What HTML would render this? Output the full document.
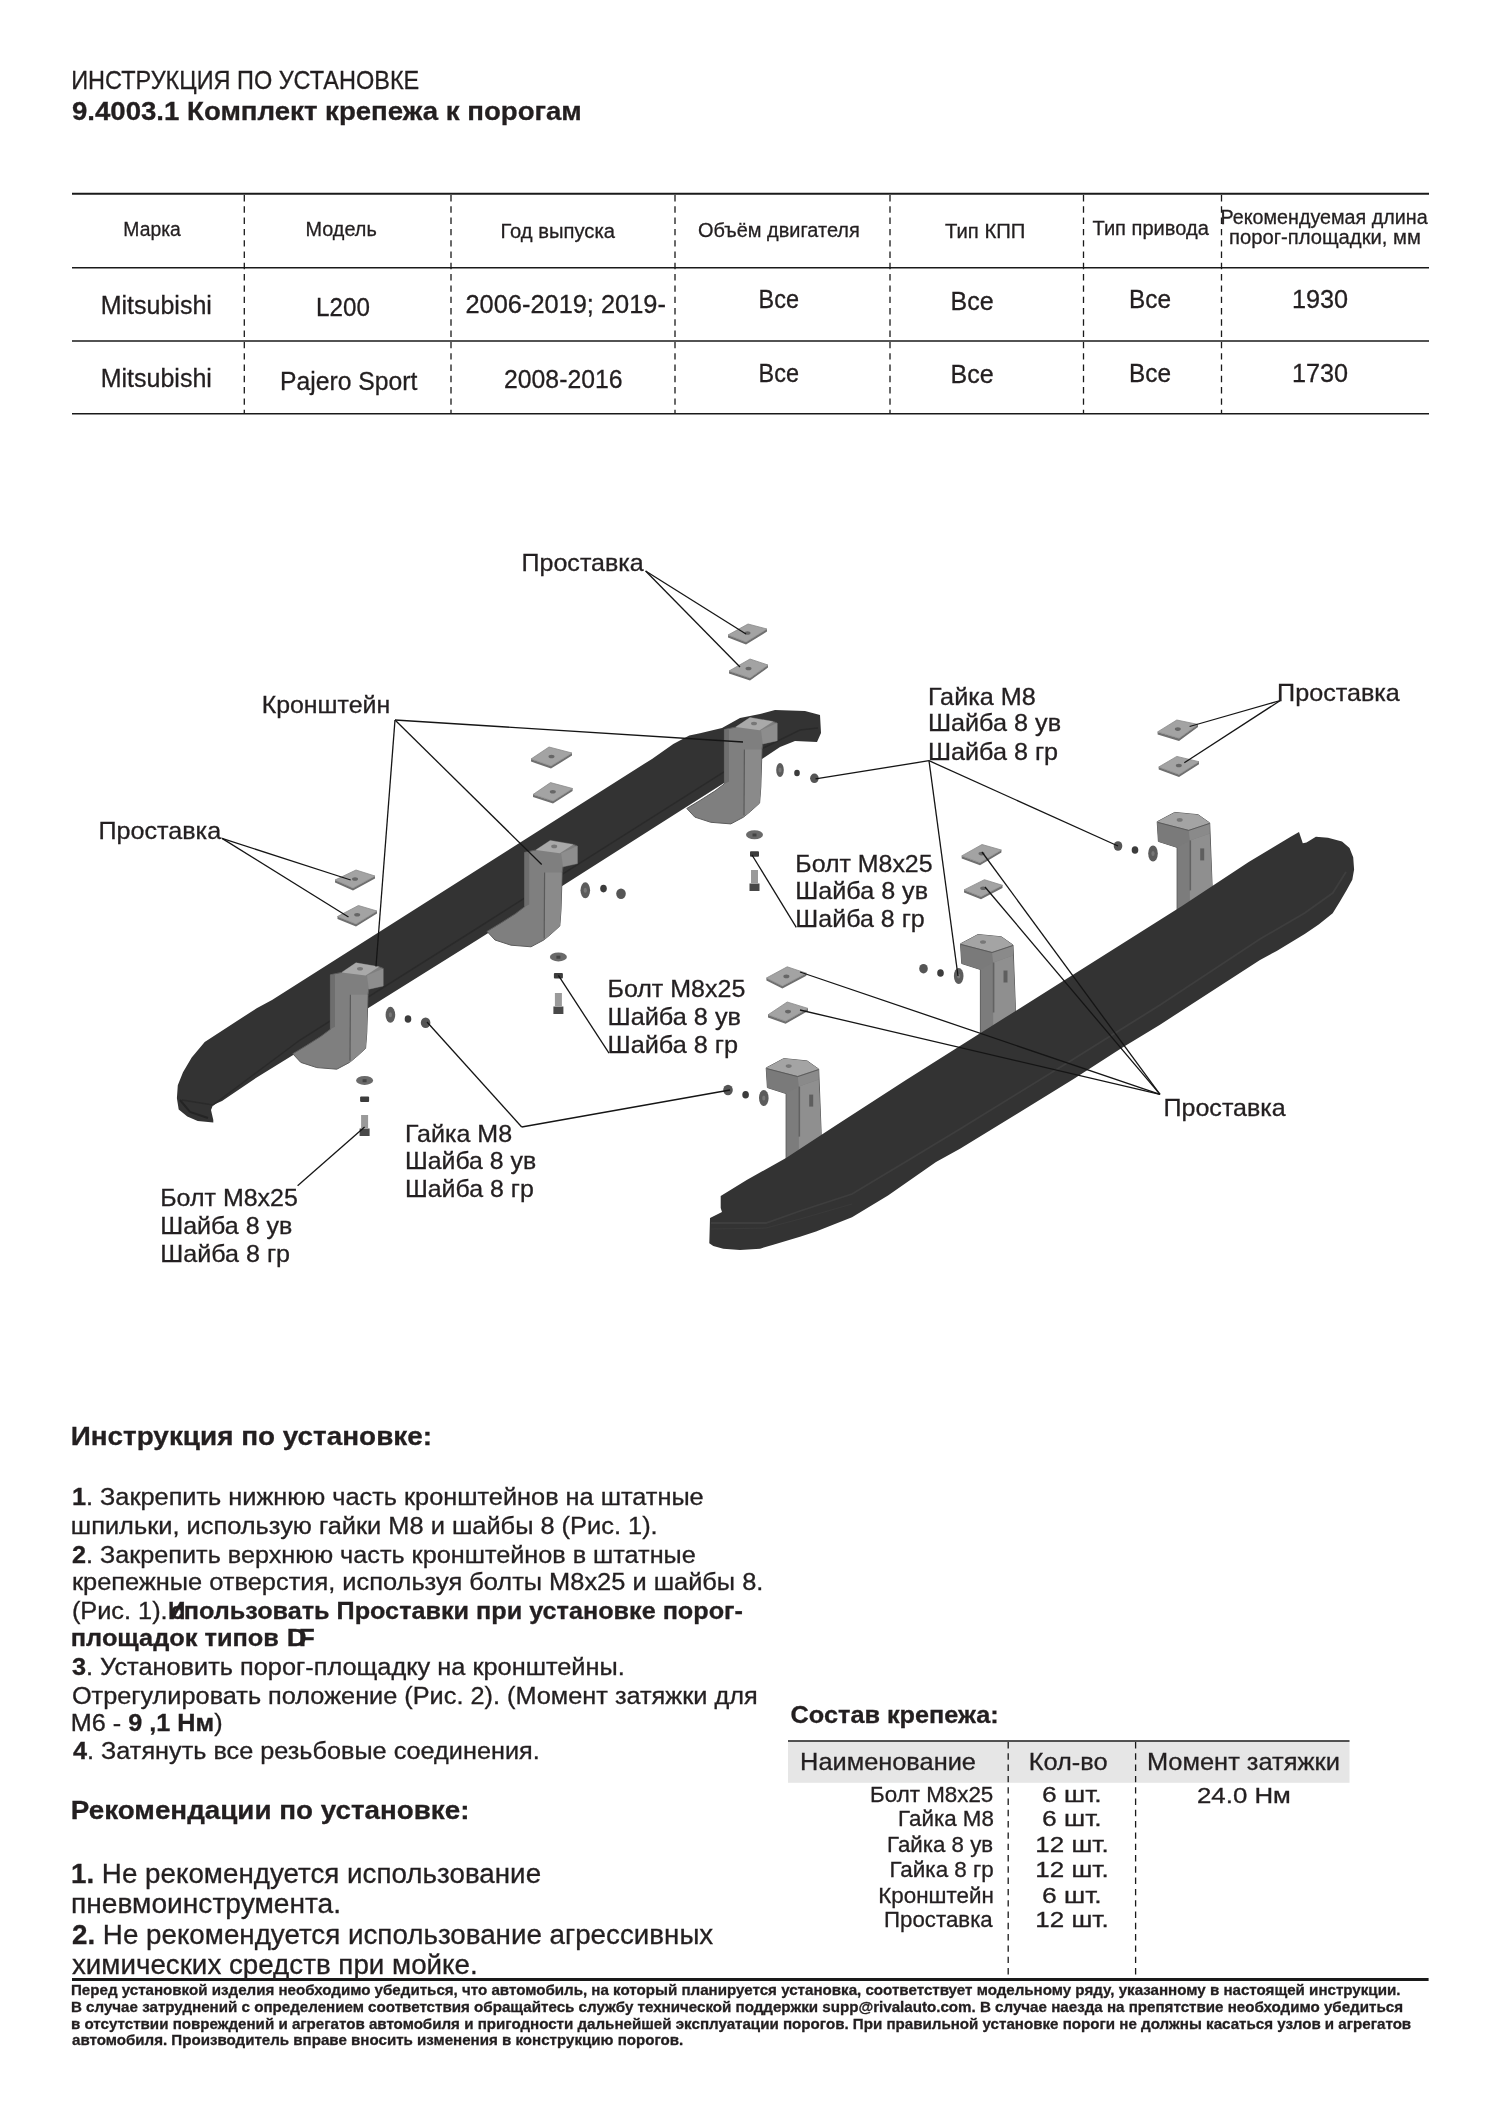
<!DOCTYPE html>
<html><head><meta charset="utf-8"><title>Инструкция по установке</title>
<style>html,body{margin:0;padding:0;background:#fff}svg{display:block;will-change:transform}</style></head>
<body><svg width="1500" height="2122" viewBox="0 0 1500 2122" font-family="Liberation Sans, sans-serif" fill="#231f20">
<line x1="72" y1="193.8" x2="1429" y2="193.8" stroke="#1a1a1a" stroke-width="2"/>
<line x1="72" y1="267.7" x2="1429" y2="267.7" stroke="#1a1a1a" stroke-width="1.4"/>
<line x1="72" y1="341" x2="1429" y2="341" stroke="#1a1a1a" stroke-width="1.6"/>
<line x1="72" y1="413.8" x2="1429" y2="413.8" stroke="#1a1a1a" stroke-width="1.4"/>
<line x1="244.3" y1="195" x2="244.3" y2="414" stroke="#1a1a1a" stroke-width="1.3" stroke-dasharray="6.4 4.9"/>
<line x1="451" y1="195" x2="451" y2="414" stroke="#1a1a1a" stroke-width="1.3" stroke-dasharray="6.4 4.9"/>
<line x1="675" y1="195" x2="675" y2="414" stroke="#1a1a1a" stroke-width="1.3" stroke-dasharray="6.4 4.9"/>
<line x1="890" y1="195" x2="890" y2="414" stroke="#1a1a1a" stroke-width="1.3" stroke-dasharray="6.4 4.9"/>
<line x1="1083.5" y1="195" x2="1083.5" y2="414" stroke="#1a1a1a" stroke-width="1.3" stroke-dasharray="6.4 4.9"/>
<line x1="1221.5" y1="195" x2="1221.5" y2="414" stroke="#1a1a1a" stroke-width="1.3" stroke-dasharray="6.4 4.9"/>
<rect x="788" y="1741.5" width="561.5" height="41.3" fill="#e6e6e6"/>
<line x1="788" y1="1741" x2="1349.5" y2="1741" stroke="#1a1a1a" stroke-width="1.6"/>
<line x1="1008.2" y1="1742" x2="1008.2" y2="1976.5" stroke="#1a1a1a" stroke-width="1.3" stroke-dasharray="6.4 4.9"/>
<line x1="1135.6" y1="1742" x2="1135.6" y2="1976.5" stroke="#1a1a1a" stroke-width="1.3" stroke-dasharray="6.4 4.9"/>
<line x1="72" y1="1979.6" x2="1428.6" y2="1979.6" stroke="#1a1a1a" stroke-width="3"/>
<polygon points="176.9,1098.3 177.8,1085.3 183.0,1072.3 191.7,1057.6 204.7,1042.0 222.0,1030.7 256.7,1008.2 272.0,1000.0 652.0,758.9 673.3,744.0 689.3,735.5 700.0,733.3 722.0,728.0 740.0,718.0 760.0,714.0 775.0,710.0 805.0,711.0 820.0,715.0 821.0,733.0 817.0,742.0 795.0,741.0 780.0,747.0 765.0,757.0 757.0,762.0 476.0,940.8 300.0,1050.7 256.7,1077.5 222.0,1101.0 213.0,1105.0 211.0,1110.0 213.3,1120.0 213.3,1122.6 197.7,1120.9 187.3,1116.5 178.7,1109.6" fill="#333333"/>
<polyline points="182.0,1100.0 213.0,1105.0 300.0,1040.0 476.0,929.0 757.0,751.0 800.0,730.0 818.0,728.0" fill="none" stroke="#2a2a2a" stroke-width="1.5"/>
<polyline points="180.0,1100.0 190.0,1112.0 208.0,1118.0" fill="none" stroke="#242424" stroke-width="2"/>
<polygon points="330.4,974.8 341.6,972.4 356.0,962.8 379.2,966.8 383.2,968.4 383.2,986.0 368.8,989.2 368.0,994.8 366.8,1032.4 365.6,1048.4 356.8,1056.4 349.6,1062.4 336.8,1069.2 316.8,1067.6 300.8,1062.4 292.8,1053.8 306.0,1045.8 321.0,1036.3 330.4,1029.2" fill="#7f7f7f" stroke="#5c5c5c" stroke-width="1"/><polygon points="330.4,974.8 335.0,974.8 335.0,1026.8 330.4,1029.2" fill="#6e6e6e"/><polygon points="350.4,994.8 367.5,994.8 366.8,1032.4 365.6,1048.4 356.8,1056.4 349.6,1062.4 350.4,1022.8" fill="#8a8a8a"/><line x1="350.4" y1="994.8" x2="350.0" y2="1060.8" stroke="#5a5a5a" stroke-width="1.2"/><polygon points="341.6,972.4 356.0,962.8 379.2,966.8 365.6,975.6" fill="#a9a9a9"/><polygon points="367.0,975.6 383.2,968.4 383.2,986.0 368.8,989.2" fill="#8d8d8d"/><ellipse cx="360.0" cy="968.8" rx="3" ry="1.8" fill="#777"/>
<polygon points="524.6,852.4 535.8,850.0 550.2,840.4 573.4,844.4 577.4,846.0 577.4,863.6 563.0,866.8 562.2,872.4 561.0,910.0 559.8,926.0 551.0,934.0 543.8,940.0 531.0,946.8 511.0,945.2 495.0,940.0 487.0,931.4 500.2,923.4 515.2,913.9 524.6,906.8" fill="#7f7f7f" stroke="#5c5c5c" stroke-width="1"/><polygon points="524.6,852.4 529.2,852.4 529.2,904.4 524.6,906.8" fill="#6e6e6e"/><polygon points="544.6,872.4 561.7,872.4 561.0,910.0 559.8,926.0 551.0,934.0 543.8,940.0 544.6,900.4" fill="#8a8a8a"/><line x1="544.6" y1="872.4" x2="544.2" y2="938.4" stroke="#5a5a5a" stroke-width="1.2"/><polygon points="535.8,850.0 550.2,840.4 573.4,844.4 559.8,853.2" fill="#a9a9a9"/><polygon points="561.2,853.2 577.4,846.0 577.4,863.6 563.0,866.8" fill="#8d8d8d"/><ellipse cx="554.2" cy="846.4" rx="3" ry="1.8" fill="#777"/>
<polygon points="724.4,729.5 735.6,727.1 750.0,717.5 773.2,721.5 777.2,723.1 777.2,740.7 762.8,743.9 762.0,749.5 760.8,787.1 759.6,803.1 750.8,811.1 743.6,817.1 730.8,823.9 710.8,822.3 694.8,817.1 686.8,808.5 700.0,800.5 715.0,791.0 724.4,783.9" fill="#7f7f7f" stroke="#5c5c5c" stroke-width="1"/><polygon points="724.4,729.5 729.0,729.5 729.0,781.5 724.4,783.9" fill="#6e6e6e"/><polygon points="744.4,749.5 761.5,749.5 760.8,787.1 759.6,803.1 750.8,811.1 743.6,817.1 744.4,777.5" fill="#8a8a8a"/><line x1="744.4" y1="749.5" x2="744.0" y2="815.5" stroke="#5a5a5a" stroke-width="1.2"/><polygon points="735.6,727.1 750.0,717.5 773.2,721.5 759.6,730.3" fill="#a9a9a9"/><polygon points="761.0,730.3 777.2,723.1 777.2,740.7 762.8,743.9" fill="#8d8d8d"/><ellipse cx="754.0" cy="723.5" rx="3" ry="1.8" fill="#777"/>
<polygon points="766.2,1067.9 783.7,1058.6 807.1,1060.9 818.7,1069.1 821.1,1131.2 821.6,1168.6 786.1,1168.6 786.1,1093.6 767.4,1087.6" fill="#7c7c7c" stroke="#5c5c5c" stroke-width="1"/><polygon points="766.2,1067.9 797.7,1076.1 798.9,1086.6 786.1,1093.6 767.4,1087.6" fill="#7a7a7a"/><polygon points="798.9,1086.6 818.7,1079.6 821.1,1131.2 821.6,1168.6 798.9,1168.6" fill="#8f8f8f"/><polygon points="797.7,1076.1 818.7,1069.1 818.7,1079.6 798.9,1086.6" fill="#8a8a8a"/><polygon points="766.2,1067.9 783.7,1058.6 807.1,1060.9 818.7,1069.1 797.7,1076.1" fill="#a4a4a4"/><polyline points="766.7,1068.6 797.7,1076.6 818.7,1069.6" fill="none" stroke="#5a5a5a" stroke-width="1"/><line x1="799.3" y1="1086.6" x2="799.3" y2="1136.6" stroke="#626262" stroke-width="1.6"/><polygon points="809.2,1094.6 813.2,1094.6 813.2,1106.6 809.2,1106.6" fill="#5e5e5e"/><ellipse cx="788.7" cy="1066.1" rx="3" ry="1.8" fill="#777"/>
<polygon points="960.5,943.8 978.0,934.5 1001.4,936.8 1013.0,945.0 1015.4,1007.1 1015.9,1044.5 980.4,1044.5 980.4,969.5 961.7,963.5" fill="#7c7c7c" stroke="#5c5c5c" stroke-width="1"/><polygon points="960.5,943.8 992.0,952.0 993.2,962.5 980.4,969.5 961.7,963.5" fill="#7a7a7a"/><polygon points="993.2,962.5 1013.0,955.5 1015.4,1007.1 1015.9,1044.5 993.2,1044.5" fill="#8f8f8f"/><polygon points="992.0,952.0 1013.0,945.0 1013.0,955.5 993.2,962.5" fill="#8a8a8a"/><polygon points="960.5,943.8 978.0,934.5 1001.4,936.8 1013.0,945.0 992.0,952.0" fill="#a4a4a4"/><polyline points="961.0,944.5 992.0,952.5 1013.0,945.5" fill="none" stroke="#5a5a5a" stroke-width="1"/><line x1="993.6" y1="962.5" x2="993.6" y2="1012.5" stroke="#626262" stroke-width="1.6"/><polygon points="1003.5,970.5 1007.5,970.5 1007.5,982.5 1003.5,982.5" fill="#5e5e5e"/><ellipse cx="983.0" cy="942.0" rx="3" ry="1.8" fill="#777"/>
<polygon points="1157.2,821.7 1174.7,812.4 1198.1,814.7 1209.7,822.9 1212.1,885.0 1212.6,922.4 1177.1,922.4 1177.1,847.4 1158.4,841.4" fill="#7c7c7c" stroke="#5c5c5c" stroke-width="1"/><polygon points="1157.2,821.7 1188.7,829.9 1189.9,840.4 1177.1,847.4 1158.4,841.4" fill="#7a7a7a"/><polygon points="1189.9,840.4 1209.7,833.4 1212.1,885.0 1212.6,922.4 1189.9,922.4" fill="#8f8f8f"/><polygon points="1188.7,829.9 1209.7,822.9 1209.7,833.4 1189.9,840.4" fill="#8a8a8a"/><polygon points="1157.2,821.7 1174.7,812.4 1198.1,814.7 1209.7,822.9 1188.7,829.9" fill="#a4a4a4"/><polyline points="1157.7,822.4 1188.7,830.4 1209.7,823.4" fill="none" stroke="#5a5a5a" stroke-width="1"/><line x1="1190.3" y1="840.4" x2="1190.3" y2="890.4" stroke="#626262" stroke-width="1.6"/><polygon points="1200.2,848.4 1204.2,848.4 1204.2,860.4 1200.2,860.4" fill="#5e5e5e"/><ellipse cx="1179.7" cy="819.9" rx="3" ry="1.8" fill="#777"/>
<polygon points="720.7,1196.0 746.7,1180.0 786.0,1158.0 838.0,1124.0 906.0,1080.0 1182.0,906.0 1248.7,862.0 1272.0,848.0 1290.7,836.8 1299.0,832.1 1302.8,843.3 1306.5,842.4 1315.9,836.8 1328.0,837.7 1342.0,841.5 1349.5,848.0 1353.2,857.3 1354.1,869.5 1352.3,879.7 1346.7,890.0 1340.1,901.2 1332.7,913.3 1318.7,924.5 1304.7,933.9 1276.7,951.0 1260.0,960.0 1160.0,1024.7 1121.7,1048.0 1073.6,1079.0 960.0,1148.8 936.0,1162.0 912.0,1178.8 888.0,1195.6 852.0,1217.2 816.0,1231.6 800.0,1236.7 773.3,1244.7 760.0,1248.7 740.0,1250.0 723.3,1248.7 713.3,1246.0 709.3,1243.3 710.0,1218.0 722.0,1212.0 720.7,1208.0" fill="#333333"/>
<polyline points="711.0,1223.0 766.0,1223.0 800.0,1211.0 852.0,1194.0 912.0,1158.0 960.0,1129.0 1073.6,1059.0 1160.0,1005.0 1260.0,939.0 1304.7,913.0 1332.7,893.0 1346.0,872.0" fill="none" stroke="#3e3e3e" stroke-width="1.8"/>
<polyline points="711.0,1229.0 766.0,1228.0 800.0,1219.0 852.0,1204.0" fill="none" stroke="#3a3a3a" stroke-width="1.2"/>
<polygon points="728.0,635.0 746.0,642.0 767.0,629.0 767.0,631.6 746.0,644.6 728.0,637.6" fill="#6f6f6f"/><polygon points="728.0,635.0 748.0,624.0 767.0,629.0 746.0,642.0" fill="#a3a3a3" stroke="#8a8a8a" stroke-width="0.8"/><ellipse cx="747.5" cy="633.0" rx="3" ry="1.8" fill="#666"/>
<polygon points="729.0,671.0 750.0,678.0 768.0,665.0 768.0,667.6 750.0,680.6 729.0,673.6" fill="#6f6f6f"/><polygon points="729.0,671.0 750.0,659.0 768.0,665.0 750.0,678.0" fill="#a3a3a3" stroke="#8a8a8a" stroke-width="0.8"/><ellipse cx="748.5" cy="668.5" rx="3" ry="1.8" fill="#666"/>
<polygon points="335.0,880.0 353.0,888.0 375.0,876.0 375.0,878.6 353.0,890.6 335.0,882.6" fill="#6f6f6f"/><polygon points="335.0,880.0 356.0,870.0 375.0,876.0 353.0,888.0" fill="#a3a3a3" stroke="#8a8a8a" stroke-width="0.8"/><ellipse cx="355.0" cy="879.0" rx="3" ry="1.8" fill="#666"/>
<polygon points="337.5,916.5 356.0,924.0 377.0,911.0 377.0,913.6 356.0,926.6 337.5,919.1" fill="#6f6f6f"/><polygon points="337.5,916.5 358.4,905.5 377.0,911.0 356.0,924.0" fill="#a3a3a3" stroke="#8a8a8a" stroke-width="0.8"/><ellipse cx="357.2" cy="914.8" rx="3" ry="1.8" fill="#666"/>
<polygon points="531.0,759.0 551.0,766.0 572.0,753.0 572.0,755.6 551.0,768.6 531.0,761.6" fill="#6f6f6f"/><polygon points="531.0,759.0 549.0,747.0 572.0,753.0 551.0,766.0" fill="#a3a3a3" stroke="#8a8a8a" stroke-width="0.8"/><ellipse cx="551.5" cy="756.5" rx="3" ry="1.8" fill="#666"/>
<polygon points="533.0,794.5 553.0,801.0 572.6,788.5 572.6,791.1 553.0,803.6 533.0,797.1" fill="#6f6f6f"/><polygon points="533.0,794.5 550.5,782.6 572.6,788.5 553.0,801.0" fill="#a3a3a3" stroke="#8a8a8a" stroke-width="0.8"/><ellipse cx="552.8" cy="791.8" rx="3" ry="1.8" fill="#666"/>
<polygon points="1157.6,731.9 1179.0,738.3 1198.0,724.4 1198.0,727.0 1179.0,740.9 1157.6,734.5" fill="#6f6f6f"/><polygon points="1157.6,731.9 1176.8,720.0 1198.0,724.4 1179.0,738.3" fill="#a3a3a3" stroke="#8a8a8a" stroke-width="0.8"/><ellipse cx="1177.8" cy="729.1" rx="3" ry="1.8" fill="#666"/>
<polygon points="1158.7,767.0 1179.0,774.5 1199.0,761.7 1199.0,764.3 1179.0,777.1 1158.7,769.6" fill="#6f6f6f"/><polygon points="1158.7,767.0 1176.8,756.4 1199.0,761.7 1179.0,774.5" fill="#a3a3a3" stroke="#8a8a8a" stroke-width="0.8"/><ellipse cx="1178.8" cy="765.5" rx="3" ry="1.8" fill="#666"/>
<polygon points="961.7,855.9 980.0,862.7 1001.4,850.0 1001.4,852.6 980.0,865.3 961.7,858.5" fill="#6f6f6f"/><polygon points="961.7,855.9 982.0,844.5 1001.4,850.0 980.0,862.7" fill="#a3a3a3" stroke="#8a8a8a" stroke-width="0.8"/><ellipse cx="981.5" cy="853.6" rx="3" ry="1.8" fill="#666"/>
<polygon points="964.0,889.9 981.0,896.7 1002.5,885.3 1002.5,887.9 981.0,899.3 964.0,892.5" fill="#6f6f6f"/><polygon points="964.0,889.9 984.4,879.7 1002.5,885.3 981.0,896.7" fill="#a3a3a3" stroke="#8a8a8a" stroke-width="0.8"/><ellipse cx="983.2" cy="888.2" rx="3" ry="1.8" fill="#666"/>
<polygon points="766.4,978.0 782.4,986.0 806.4,973.2 806.4,975.8 782.4,988.6 766.4,980.6" fill="#6f6f6f"/><polygon points="766.4,978.0 787.2,966.8 806.4,973.2 782.4,986.0" fill="#a3a3a3" stroke="#8a8a8a" stroke-width="0.8"/><ellipse cx="786.4" cy="976.4" rx="3" ry="1.8" fill="#666"/>
<polygon points="768.0,1014.8 785.6,1021.2 808.0,1008.4 808.0,1011.0 785.6,1023.8 768.0,1017.4" fill="#6f6f6f"/><polygon points="768.0,1014.8 787.2,1002.0 808.0,1008.4 785.6,1021.2" fill="#a3a3a3" stroke="#8a8a8a" stroke-width="0.8"/><ellipse cx="788.0" cy="1011.6" rx="3" ry="1.8" fill="#666"/>
<ellipse cx="780.0" cy="770.0" rx="3.8" ry="7.0" fill="#5c5c5c"/>
<ellipse cx="780.0" cy="770.0" rx="1.6" ry="2.5" fill="#777"/>
<ellipse cx="797.0" cy="773.0" rx="2.8" ry="3.3" fill="#3c3c3c"/>
<ellipse cx="814.4" cy="778.3" rx="4.3" ry="4.8" fill="#555555"/>
<ellipse cx="585.3" cy="890.3" rx="4.8" ry="8.0" fill="#5c5c5c"/>
<ellipse cx="585.3" cy="890.3" rx="1.6" ry="2.5" fill="#777"/>
<ellipse cx="603.5" cy="888.6" rx="3.3" ry="3.8" fill="#3c3c3c"/>
<ellipse cx="621.0" cy="893.7" rx="4.8" ry="5.2" fill="#555555"/>
<ellipse cx="390.4" cy="1014.8" rx="4.8" ry="8.0" fill="#5c5c5c"/>
<ellipse cx="390.4" cy="1014.8" rx="1.6" ry="2.5" fill="#777"/>
<ellipse cx="408.0" cy="1019.0" rx="3.3" ry="3.8" fill="#3c3c3c"/>
<ellipse cx="425.6" cy="1022.8" rx="4.8" ry="5.2" fill="#555555"/>
<ellipse cx="1118.0" cy="846.0" rx="4.3" ry="4.8" fill="#555555"/>
<ellipse cx="1135.0" cy="850.0" rx="3.3" ry="3.8" fill="#3c3c3c"/>
<ellipse cx="1153.0" cy="853.5" rx="4.8" ry="8.0" fill="#5c5c5c"/>
<ellipse cx="1153.0" cy="853.5" rx="1.6" ry="2.5" fill="#777"/>
<ellipse cx="923.5" cy="968.7" rx="4.3" ry="4.8" fill="#555555"/>
<ellipse cx="940.5" cy="973.0" rx="3.3" ry="3.8" fill="#3c3c3c"/>
<ellipse cx="958.7" cy="976.0" rx="4.8" ry="8.0" fill="#5c5c5c"/>
<ellipse cx="958.7" cy="976.0" rx="1.6" ry="2.5" fill="#777"/>
<ellipse cx="728.0" cy="1090.0" rx="4.8" ry="5.2" fill="#555555"/>
<ellipse cx="745.6" cy="1094.8" rx="3.3" ry="3.8" fill="#3c3c3c"/>
<ellipse cx="763.8" cy="1098.0" rx="4.8" ry="8.0" fill="#5c5c5c"/>
<ellipse cx="763.8" cy="1098.0" rx="1.6" ry="2.5" fill="#777"/>
<ellipse cx="754.5" cy="834.7" rx="8.5" ry="4.5" fill="#6a6a6a"/>
<rect x="752.5" y="833.5" width="4" height="3" fill="#444"/>
<rect x="750.0" y="851.2" width="9" height="5.5" rx="1" fill="#3c3c3c"/>
<rect x="751.0" y="870.0" width="7" height="13" fill="#9a9a9a"/>
<rect x="749.5" y="883.5" width="10" height="7.5" fill="#484848"/>
<ellipse cx="558.4" cy="956.9" rx="8.5" ry="4.5" fill="#6a6a6a"/>
<rect x="556.4" y="955.7" width="4" height="3" fill="#444"/>
<rect x="553.9" y="972.9" width="9" height="5.5" rx="1" fill="#3c3c3c"/>
<rect x="554.9" y="993.0" width="7" height="13" fill="#9a9a9a"/>
<rect x="553.4" y="1006.5" width="10" height="7.5" fill="#484848"/>
<ellipse cx="364.6" cy="1080.4" rx="8.5" ry="4.5" fill="#6a6a6a"/>
<rect x="362.6" y="1079.2" width="4" height="3" fill="#444"/>
<rect x="360.1" y="1096.5" width="9" height="5.5" rx="1" fill="#3c3c3c"/>
<rect x="361.1" y="1115.0" width="7" height="13" fill="#9a9a9a"/>
<rect x="359.6" y="1128.5" width="10" height="7.5" fill="#484848"/>
<line x1="645.6" y1="571.0" x2="746.0" y2="634.0" stroke="#151515" stroke-width="1.3"/>
<line x1="645.6" y1="571.0" x2="740.0" y2="667.0" stroke="#151515" stroke-width="1.3"/>
<line x1="395.0" y1="720.0" x2="743.0" y2="742.0" stroke="#151515" stroke-width="1.3"/>
<line x1="395.0" y1="720.0" x2="541.7" y2="864.5" stroke="#151515" stroke-width="1.3"/>
<line x1="395.0" y1="720.0" x2="376.0" y2="966.5" stroke="#151515" stroke-width="1.3"/>
<line x1="222.0" y1="838.4" x2="350.7" y2="880.0" stroke="#151515" stroke-width="1.3"/>
<line x1="222.0" y1="838.4" x2="348.5" y2="917.0" stroke="#151515" stroke-width="1.3"/>
<line x1="929.0" y1="760.7" x2="815.5" y2="778.8" stroke="#151515" stroke-width="1.3"/>
<line x1="929.0" y1="760.7" x2="958.0" y2="976.0" stroke="#151515" stroke-width="1.3"/>
<line x1="929.0" y1="760.7" x2="1118.0" y2="846.0" stroke="#151515" stroke-width="1.3"/>
<line x1="796.3" y1="927.3" x2="752.0" y2="855.0" stroke="#151515" stroke-width="1.3"/>
<line x1="1280.3" y1="700.5" x2="1189.6" y2="726.5" stroke="#151515" stroke-width="1.3"/>
<line x1="1280.3" y1="700.5" x2="1184.3" y2="762.8" stroke="#151515" stroke-width="1.3"/>
<line x1="1160.0" y1="1094.4" x2="982.0" y2="852.0" stroke="#151515" stroke-width="1.3"/>
<line x1="1160.0" y1="1094.4" x2="985.0" y2="887.0" stroke="#151515" stroke-width="1.3"/>
<line x1="1160.0" y1="1094.4" x2="800.0" y2="972.0" stroke="#151515" stroke-width="1.3"/>
<line x1="1160.0" y1="1094.4" x2="800.0" y2="1010.0" stroke="#151515" stroke-width="1.3"/>
<line x1="297.6" y1="1185.7" x2="364.6" y2="1127.0" stroke="#151515" stroke-width="1.3"/>
<line x1="521.7" y1="1127.0" x2="427.0" y2="1022.0" stroke="#151515" stroke-width="1.3"/>
<line x1="521.7" y1="1127.0" x2="730.0" y2="1090.0" stroke="#151515" stroke-width="1.3"/>
<line x1="609.0" y1="1053.2" x2="558.4" y2="975.4" stroke="#151515" stroke-width="1.3"/>
<g stroke="#231f20" stroke-width="0.3">
<text x="71.19" y="89.00" font-size="26" textLength="348.05" lengthAdjust="spacingAndGlyphs"><tspan>ИНСТРУКЦИЯ ПО УСТАНОВКЕ</tspan></text>
<text x="71.90" y="120.00" font-size="25" textLength="509.92" lengthAdjust="spacingAndGlyphs"><tspan font-weight="bold">9.4003.1 Комплект крепежа к порогам</tspan></text>
<text x="123.37" y="236.20" font-size="20" textLength="57.40" lengthAdjust="spacingAndGlyphs"><tspan>Марка</tspan></text>
<text x="305.51" y="236.20" font-size="20" textLength="71.28" lengthAdjust="spacingAndGlyphs"><tspan>Модель</tspan></text>
<text x="500.48" y="238.00" font-size="20" textLength="114.44" lengthAdjust="spacingAndGlyphs"><tspan>Год выпуска</tspan></text>
<text x="698.00" y="236.60" font-size="20" textLength="161.78" lengthAdjust="spacingAndGlyphs"><tspan>Объём двигателя</tspan></text>
<text x="945.00" y="237.50" font-size="20" textLength="80.31" lengthAdjust="spacingAndGlyphs"><tspan>Тип КПП</tspan></text>
<text x="1092.50" y="235.00" font-size="20" textLength="116.41" lengthAdjust="spacingAndGlyphs"><tspan>Тип привода</tspan></text>
<text x="1220.53" y="224.00" font-size="20" textLength="207.08" lengthAdjust="spacingAndGlyphs"><tspan>Рекомендуемая длина</tspan></text>
<text x="1228.99" y="244.00" font-size="20" textLength="191.82" lengthAdjust="spacingAndGlyphs"><tspan>порог-площадки, мм</tspan></text>
<text x="100.70" y="313.80" font-size="25" textLength="111.16" lengthAdjust="spacingAndGlyphs"><tspan>Mitsubishi</tspan></text>
<text x="316.06" y="315.70" font-size="25" textLength="53.84" lengthAdjust="spacingAndGlyphs"><tspan>L200</tspan></text>
<text x="465.48" y="312.60" font-size="25" textLength="200.43" lengthAdjust="spacingAndGlyphs"><tspan>2006-2019; 2019-</tspan></text>
<text x="758.62" y="308.00" font-size="25" textLength="40.40" lengthAdjust="spacingAndGlyphs"><tspan>Все</tspan></text>
<text x="950.50" y="310.00" font-size="25" textLength="43.09" lengthAdjust="spacingAndGlyphs"><tspan>Все</tspan></text>
<text x="1129.05" y="308.00" font-size="25" textLength="42.02" lengthAdjust="spacingAndGlyphs"><tspan>Все</tspan></text>
<text x="1291.98" y="307.50" font-size="25" textLength="56.15" lengthAdjust="spacingAndGlyphs"><tspan>1930</tspan></text>
<text x="100.70" y="387.00" font-size="25" textLength="111.16" lengthAdjust="spacingAndGlyphs"><tspan>Mitsubishi</tspan></text>
<text x="280.02" y="389.80" font-size="25" textLength="137.24" lengthAdjust="spacingAndGlyphs"><tspan>Pajero Sport</tspan></text>
<text x="504.01" y="387.50" font-size="25" textLength="118.55" lengthAdjust="spacingAndGlyphs"><tspan>2008-2016</tspan></text>
<text x="758.62" y="381.50" font-size="25" textLength="40.40" lengthAdjust="spacingAndGlyphs"><tspan>Все</tspan></text>
<text x="950.50" y="383.00" font-size="25" textLength="43.09" lengthAdjust="spacingAndGlyphs"><tspan>Все</tspan></text>
<text x="1129.05" y="382.00" font-size="25" textLength="42.02" lengthAdjust="spacingAndGlyphs"><tspan>Все</tspan></text>
<text x="1291.98" y="381.50" font-size="25" textLength="56.15" lengthAdjust="spacingAndGlyphs"><tspan>1730</tspan></text>
<text x="521.51" y="571.00" font-size="24" textLength="122.23" lengthAdjust="spacingAndGlyphs"><tspan>Проставка</tspan></text>
<text x="261.73" y="713.00" font-size="24" textLength="128.43" lengthAdjust="spacingAndGlyphs"><tspan>Кронштейн</tspan></text>
<text x="98.51" y="838.90" font-size="24" textLength="122.64" lengthAdjust="spacingAndGlyphs"><tspan>Проставка</tspan></text>
<text x="927.90" y="704.50" font-size="24" textLength="107.94" lengthAdjust="spacingAndGlyphs"><tspan>Гайка M8</tspan></text>
<text x="927.90" y="731.20" font-size="24" textLength="133.17" lengthAdjust="spacingAndGlyphs"><tspan>Шайба 8 ув</tspan></text>
<text x="927.90" y="759.50" font-size="24" textLength="130.23" lengthAdjust="spacingAndGlyphs"><tspan>Шайба 8 гр</tspan></text>
<text x="1277.10" y="701.00" font-size="24" textLength="122.74" lengthAdjust="spacingAndGlyphs"><tspan>Проставка</tspan></text>
<text x="795.32" y="871.70" font-size="24" textLength="137.27" lengthAdjust="spacingAndGlyphs"><tspan>Болт M8x25</tspan></text>
<text x="795.30" y="899.40" font-size="24" textLength="132.76" lengthAdjust="spacingAndGlyphs"><tspan>Шайба 8 ув</tspan></text>
<text x="795.31" y="927.30" font-size="24" textLength="129.41" lengthAdjust="spacingAndGlyphs"><tspan>Шайба 8 гр</tspan></text>
<text x="607.52" y="996.60" font-size="24" textLength="137.78" lengthAdjust="spacingAndGlyphs"><tspan>Болт M8x25</tspan></text>
<text x="607.49" y="1025.40" font-size="24" textLength="133.48" lengthAdjust="spacingAndGlyphs"><tspan>Шайба 8 ув</tspan></text>
<text x="607.49" y="1053.20" font-size="24" textLength="130.64" lengthAdjust="spacingAndGlyphs"><tspan>Шайба 8 гр</tspan></text>
<text x="1163.51" y="1116.40" font-size="24" textLength="122.23" lengthAdjust="spacingAndGlyphs"><tspan>Проставка</tspan></text>
<text x="404.91" y="1142.00" font-size="24" textLength="107.22" lengthAdjust="spacingAndGlyphs"><tspan>Гайка M8</tspan></text>
<text x="404.93" y="1169.30" font-size="24" textLength="131.23" lengthAdjust="spacingAndGlyphs"><tspan>Шайба 8 ув</tspan></text>
<text x="404.92" y="1196.70" font-size="24" textLength="128.90" lengthAdjust="spacingAndGlyphs"><tspan>Шайба 8 гр</tspan></text>
<text x="160.22" y="1206.20" font-size="24" textLength="137.67" lengthAdjust="spacingAndGlyphs"><tspan>Болт M8x25</tspan></text>
<text x="160.21" y="1234.40" font-size="24" textLength="132.15" lengthAdjust="spacingAndGlyphs"><tspan>Шайба 8 ув</tspan></text>
<text x="160.21" y="1262.30" font-size="24" textLength="129.82" lengthAdjust="spacingAndGlyphs"><tspan>Шайба 8 гр</tspan></text>
<text x="70.65" y="1444.70" font-size="26" textLength="361.42" lengthAdjust="spacingAndGlyphs"><tspan font-weight="bold">Инструкция по установке:</tspan></text>
<text x="71.90" y="1505.00" font-size="23" textLength="631.82" lengthAdjust="spacingAndGlyphs"><tspan font-weight="bold">1</tspan><tspan>. Закрепить нижнюю часть кронштейнов на штатные</tspan></text>
<text x="70.79" y="1534.00" font-size="23" textLength="586.88" lengthAdjust="spacingAndGlyphs"><tspan>шпильки, использую гайки M8 и шайбы 8 (Рис. 1).</tspan></text>
<text x="71.90" y="1562.50" font-size="23" textLength="623.83" lengthAdjust="spacingAndGlyphs"><tspan font-weight="bold">2</tspan><tspan>. Закрепить верхнюю часть кронштейнов в штатные</tspan></text>
<text x="71.90" y="1590.00" font-size="23" textLength="691.49" lengthAdjust="spacingAndGlyphs"><tspan>крепежные отверстия, используя болты M8x25 и шайбы 8.</tspan></text>
<text x="71.90" y="1618.50" font-size="23" textLength="95.77" lengthAdjust="spacingAndGlyphs"><tspan>(Рис. 1).</tspan></text>
<text x="168.14" y="1618.50" font-size="23" textLength="17.48" lengthAdjust="spacingAndGlyphs"><tspan font-weight="bold">И</tspan></text>
<text x="170.45" y="1618.50" font-size="23" textLength="13.38" lengthAdjust="spacingAndGlyphs"><tspan font-weight="bold">с</tspan></text>
<text x="183.81" y="1618.50" font-size="23" textLength="559.14" lengthAdjust="spacingAndGlyphs"><tspan font-weight="bold">пользовать Проставки при установке порог-</tspan></text>
<text x="70.80" y="1646.00" font-size="23" textLength="208.05" lengthAdjust="spacingAndGlyphs"><tspan font-weight="bold">площадок типов</tspan></text>
<text x="286.80" y="1646.00" font-size="23" textLength="19.95" lengthAdjust="spacingAndGlyphs"><tspan font-weight="bold">D</tspan></text>
<text x="298.86" y="1646.00" font-size="23" textLength="16.05" lengthAdjust="spacingAndGlyphs"><tspan font-weight="bold">F</tspan></text>
<text x="71.90" y="1675.00" font-size="23" textLength="552.87" lengthAdjust="spacingAndGlyphs"><tspan font-weight="bold">3</tspan><tspan>. Установить порог-площадку на кронштейны.</tspan></text>
<text x="71.90" y="1703.50" font-size="23" textLength="685.77" lengthAdjust="spacingAndGlyphs"><tspan>Отрегулировать положение (Рис. 2). (Момент затяжки для</tspan></text>
<text x="70.81" y="1731.00" font-size="23" textLength="151.79" lengthAdjust="spacingAndGlyphs"><tspan>M6 - </tspan><tspan font-weight="bold">9 ,1 Нм</tspan><tspan>)</tspan></text>
<text x="73.00" y="1759.00" font-size="23" textLength="466.70" lengthAdjust="spacingAndGlyphs"><tspan font-weight="bold">4</tspan><tspan>. Затянуть все резьбовые соединения.</tspan></text>
<text x="70.86" y="1819.00" font-size="26" textLength="398.64" lengthAdjust="spacingAndGlyphs"><tspan font-weight="bold">Рекомендации по установке:</tspan></text>
<text x="70.94" y="1882.50" font-size="27" textLength="470.15" lengthAdjust="spacingAndGlyphs"><tspan font-weight="bold">1.</tspan><tspan> Не рекомендуется использование</tspan></text>
<text x="70.91" y="1912.50" font-size="27" textLength="270.19" lengthAdjust="spacingAndGlyphs"><tspan>пневмоинструмента.</tspan></text>
<text x="71.97" y="1944.00" font-size="27" textLength="641.25" lengthAdjust="spacingAndGlyphs"><tspan font-weight="bold">2.</tspan><tspan> Не рекомендуется использование агрессивных</tspan></text>
<text x="71.97" y="1974.00" font-size="27" textLength="405.73" lengthAdjust="spacingAndGlyphs"><tspan>химических средств при мойке.</tspan></text>
<text x="790.63" y="1723.30" font-size="23.5" textLength="208.12" lengthAdjust="spacingAndGlyphs"><tspan font-weight="bold">Состав крепежа:</tspan></text>
<text x="800.12" y="1770.00" font-size="24.4" textLength="175.82" lengthAdjust="spacingAndGlyphs"><tspan>Наименование</tspan></text>
<text x="1028.72" y="1770.00" font-size="24.4" textLength="78.86" lengthAdjust="spacingAndGlyphs"><tspan>Кол-во</tspan></text>
<text x="1146.92" y="1769.70" font-size="24.4" textLength="192.94" lengthAdjust="spacingAndGlyphs"><tspan>Момент затяжки</tspan></text>
<text x="870.12" y="1801.50" font-size="21.5" textLength="123.20" lengthAdjust="spacingAndGlyphs"><tspan>Болт M8x25</tspan></text>
<text x="1041.97" y="1801.50" font-size="21.5" textLength="59.72" lengthAdjust="spacingAndGlyphs"><tspan>6 шт.</tspan></text>
<text x="898.12" y="1826.00" font-size="21.5" textLength="95.82" lengthAdjust="spacingAndGlyphs"><tspan>Гайка M8</tspan></text>
<text x="1041.97" y="1826.00" font-size="21.5" textLength="59.72" lengthAdjust="spacingAndGlyphs"><tspan>6 шт.</tspan></text>
<text x="887.13" y="1851.70" font-size="21.5" textLength="106.01" lengthAdjust="spacingAndGlyphs"><tspan>Гайка 8 ув</tspan></text>
<text x="1035.38" y="1851.70" font-size="21.5" textLength="73.23" lengthAdjust="spacingAndGlyphs"><tspan>12 шт.</tspan></text>
<text x="889.41" y="1876.90" font-size="21.5" textLength="104.38" lengthAdjust="spacingAndGlyphs"><tspan>Гайка 8 гр</tspan></text>
<text x="1035.38" y="1876.90" font-size="21.5" textLength="73.23" lengthAdjust="spacingAndGlyphs"><tspan>12 шт.</tspan></text>
<text x="878.22" y="1902.50" font-size="21.5" textLength="115.64" lengthAdjust="spacingAndGlyphs"><tspan>Кронштейн</tspan></text>
<text x="1041.97" y="1902.50" font-size="21.5" textLength="59.72" lengthAdjust="spacingAndGlyphs"><tspan>6 шт.</tspan></text>
<text x="884.13" y="1926.80" font-size="21.5" textLength="108.62" lengthAdjust="spacingAndGlyphs"><tspan>Проставка</tspan></text>
<text x="1035.38" y="1926.80" font-size="21.5" textLength="73.23" lengthAdjust="spacingAndGlyphs"><tspan>12 шт.</tspan></text>
<text x="1197.00" y="1802.70" font-size="21.5" textLength="93.87" lengthAdjust="spacingAndGlyphs"><tspan>24.0 Нм</tspan></text>
<text x="70.96" y="1995.00" font-size="14.5" textLength="1329.49" lengthAdjust="spacingAndGlyphs"><tspan font-weight="bold">Перед установкой изделия необходимо убедиться, что автомобиль, на который планируется установка, соответствует модельному ряду, указанному в настоящей инструкции.</tspan></text>
<text x="70.96" y="2012.00" font-size="14.5" textLength="1332.05" lengthAdjust="spacingAndGlyphs"><tspan font-weight="bold">В случае затруднений с определением соответствия обращайтесь службу технической поддержки supp@rivalauto.com. В случае наезда на препятствие необходимо убедиться</tspan></text>
<text x="70.96" y="2028.60" font-size="14.5" textLength="1340.22" lengthAdjust="spacingAndGlyphs"><tspan font-weight="bold">в отсутствии повреждений и агрегатов автомобиля и пригодности дальнейшей эксплуатации порогов. При правильной установке пороги не должны касаться узлов и агрегатов</tspan></text>
<text x="72.00" y="2045.30" font-size="14.5" textLength="611.27" lengthAdjust="spacingAndGlyphs"><tspan font-weight="bold">автомобиля. Производитель вправе вносить изменения в конструкцию порогов.</tspan></text>
</g>
</svg></body></html>
